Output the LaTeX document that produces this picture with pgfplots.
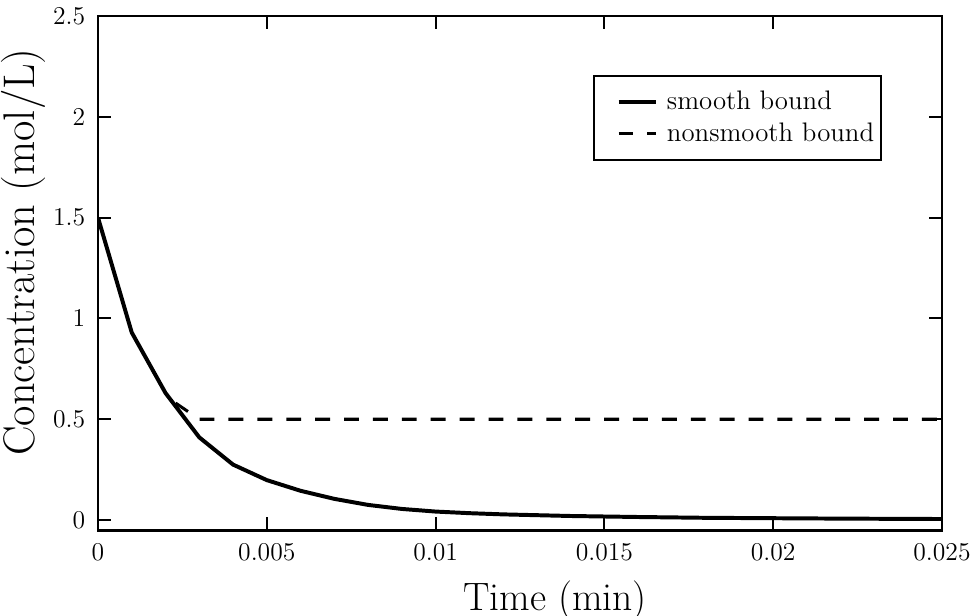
\documentclass[border=0pt]{standalone}
\usepackage{pgfplots}
\pgfplotsset{compat=1.18}

\begin{document}
\begin{tikzpicture}
\begin{axis}[
    scale only axis,
    width=362.2pt,
    height=220.6pt,
    xmin=0, xmax=0.025,
    ymin=-0.05, ymax=2.5,
    scaled x ticks=false,
    xtick={0,0.005,0.01,0.015,0.02,0.025},
    xticklabels={0,0.005,0.01,0.015,0.02,0.025},
    ytick={0,0.5,1,1.5,2,2.5},
    yticklabels={0,0.5,1,1.5,2,2.5},
    tick align=inside,
    major tick length=5.5pt,
    tick style={black, line width=0.9pt},
    axis line style={line width=1.2pt},
    ticklabel style={font=\fontsize{11}{13}\selectfont},
    xticklabel style={yshift=-2pt},
    yticklabel style={xshift=-2pt},
    xlabel={Time (min)},
    ylabel={Concentration (mol/L)},
    xlabel style={font=\fontsize{17}{20}\selectfont, xshift=15pt, yshift=-2pt},
    ylabel style={font=\fontsize{19}{22}\selectfont, xshift=9pt, yshift=-3.5pt},
    legend style={at={(0.929,0.885)}, anchor=north east, draw=black,
        line width=0.8pt, font=\fontsize{11.5}{13.5}\selectfont,
        inner xsep=1pt, inner ysep=4.5pt, column sep=2pt},
    legend image code/.code={\path (0,0); \draw[#1] (0.3cm,0cm) -- (0.86cm,0cm);},
    legend cell align=left,
]

% smooth bound
\addplot[black, line width=1.7pt] coordinates {
    (0,1.5) (0.001,0.93) (0.002,0.63) (0.003,0.41) (0.004,0.275)
    (0.005,0.198) (0.006,0.145) (0.007,0.105) (0.008,0.075) (0.009,0.055)
    (0.010,0.042) (0.011,0.034) (0.012,0.028) (0.014,0.020) (0.016,0.015)
    (0.018,0.011) (0.020,0.009) (0.022,0.007) (0.025,0.005)
};
\addlegendentry{smooth bound}

% nonsmooth bound
\addplot[black, line width=1.3pt, dash pattern=on 6.4pt off 6pt] coordinates {
    (0.0023,0.58) (0.003,0.5) (0.025,0.5)
};
\addlegendentry{nonsmooth bound}

\coordinate (sw) at (rel axis cs:0,0);
\coordinate (ne) at (rel axis cs:1,1);
\end{axis}
\pgfresetboundingbox
\path ([shift={(-42.06pt,-36.5pt)}]sw) rectangle ([shift={(14.6pt,6.9pt)}]ne);
\end{tikzpicture}
\end{document}
